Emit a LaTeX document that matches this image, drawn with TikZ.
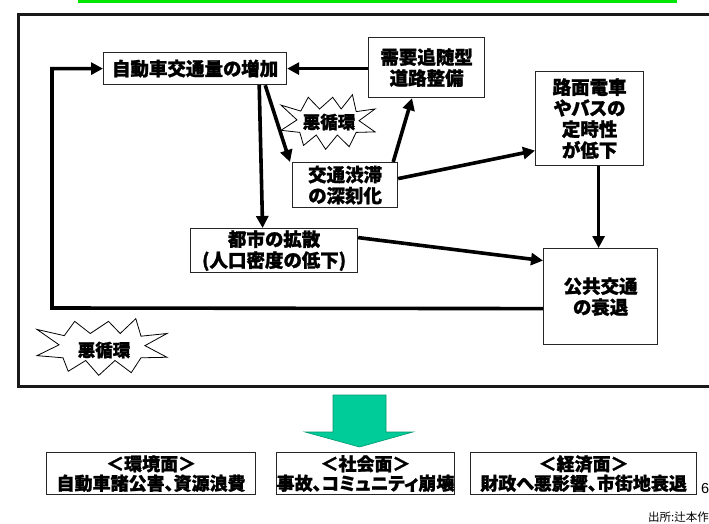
\documentclass[tikz,border=0pt]{standalone}
\usepackage{fontspec}
\usetikzlibrary{arrows.meta}
\newfontfamily\jp{Noto Sans CJK JP}[RawFeature=+palt, BoldFeatures={FakeBold=1.2}]
\newfontfamily\jpn{Noto Sans CJK JP}
\definecolor{neongreen}{RGB}{0,230,0}
\definecolor{teal}{RGB}{0,204,153}
\definecolor{tealdark}{RGB}{0,150,110}
\tikzset{
  box/.style={draw=black!85, line width=1.2pt, fill=white, inner sep=0pt, align=center,
    anchor=north west, font=\jp\bfseries\fontsize{18.5}{21}\selectfont},
  lowbox/.style={draw=black!85, line width=1.2pt, fill=white, inner sep=0pt, align=center,
    anchor=north west, font=\jp\bfseries\fontsize{18}{19.5}\selectfont},
  arr/.style={line width=3.6pt, -{Triangle[length=12pt,width=12pt]}},
  burst/.style={draw=black, line width=0.8pt, fill=white},
  bursttext/.style={font=\jp\bfseries\fontsize{17.5}{20}\selectfont, inner sep=0pt}
}
\newcommand{\burstpath}{(-1,-0.65) -- (-0.58,-0.42) -- (-0.42,-0.95) -- (-0.18,-0.5) -- (0.1,-0.95)
  -- (0.28,-0.5) -- (0.52,-1.05) -- (0.6,-0.4) -- (1,-0.5) -- (0.66,-0.05) -- (1,0.38)
  -- (0.6,0.4) -- (0.45,0.95) -- (0.2,0.5) -- (-0.05,1.05) -- (-0.25,0.5) -- (-0.52,0.9)
  -- (-0.6,0.4) -- (-1,0.32) -- (-0.66,-0.08) -- cycle}
\begin{document}
\begin{tikzpicture}[x=1pt,y=-1pt]
\useasboundingbox (0,0) rectangle (709,524);
% green box at the top
\draw[neongreen, line width=2.2pt] (79,-20) rectangle (676,1.5);
% main frame
\draw[black!90, line width=3pt] (18,14.5) rectangle (716,386);

% boxes
\node[box, minimum width=183pt, minimum height=32pt] (car) at (103,52) {自動車交通量の増加};
\node[box, minimum width=116pt, minimum height=60pt] (demand) at (368,37) {需要追随型\\道路整備};
\node[box, minimum width=108pt, minimum height=94pt] (tram) at (535,71)
  {\fontsize{18.5}{19}\selectfont 路面電車\\やバスの\\定時性\\が低下};
\node[box, minimum width=105pt, minimum height=45pt] (jam) at (292,162) {交通渋滞\\の深刻化};
\node[box, minimum width=167pt, minimum height=44pt] (city) at (190,228) {都市の拡散\\(人口密度の低下)};
\node[box, minimum width=114pt, minimum height=96pt] (pub) at (543,248) {公共交通\\の衰退};

% starbursts
\begin{scope}[shift={(328,122)}, xscale=47, yscale=26]
\draw[burst] \burstpath;
\end{scope}
\node[bursttext] (vc1) at (329,122) {悪循環};
\begin{scope}[shift={(102,347)}, xscale=65, yscale=27]
\draw[burst] \burstpath;
\end{scope}
\node[bursttext] (vc2) at (104,350) {悪循環};

% connectors
\draw[arr] (demand.west |- car.east) -- (car.east);
\draw[arr] ([xshift=-28pt]car.south east) -- ([xshift=-11.5pt]city.north);
\draw[arr] ([xshift=-22pt]car.south east) -- ([xshift=-2pt]jam.north west);
\draw[arr] ([xshift=-5pt]jam.north east) -- ([xshift=44pt]demand.south west);
\draw[arr] ([yshift=6.5pt]jam.east) -- ([yshift=-32pt]tram.west);
\draw[arr] ([yshift=13pt]city.east) -- ([yshift=36pt]pub.west);
\draw[arr] ([xshift=9pt]tram.south) -- ([xshift=-2pt]pub.north);
\coordinate (fb) at (52,308);
\draw[arr] ([yshift=-12pt]pub.west) -- (fb) |- (car.west);

% big green arrow
\draw[tealdark, line width=0.6pt, fill=teal] (333,395) -- (386,395) -- (386,432) -- (413,432)
  -- (359.5,447) -- (305,432) -- (333,432) -- cycle;

% bottom boxes
\node[lowbox, minimum width=209pt, minimum height=42pt] (env) at (46,452) {＜環境面＞\\自動車諸公害、資源浪費};
\node[lowbox, minimum width=172pt, minimum height=42pt] (soc) at (276,452) {＜社会面＞\\事故、コミュニティ崩壊};
\node[lowbox, minimum width=226pt, minimum height=42pt] (eco) at (470,452) {＜経済面＞\\財政へ悪影響、市街地衰退};

\node[font=\fontspec{Liberation Sans}\fontsize{14.5}{16}\selectfont, anchor=west, inner sep=0pt] (pg) at (701,489) {6};
\node[font=\jpn\fontsize{11.5}{13}\selectfont, anchor=east, inner sep=0pt] (src) at (709,517) {出所:辻本作};
\end{tikzpicture}
\end{document}
